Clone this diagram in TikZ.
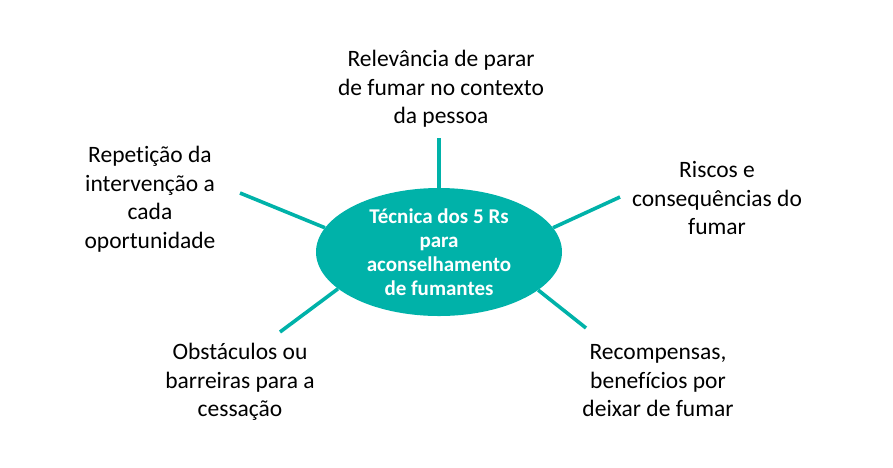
\documentclass[tikz,border=0pt]{standalone}
\usepackage{fontspec}
\setmainfont{Carlito}[Ligatures=NoCommon]
\usepackage{tikz}
\usetikzlibrary{arrows,shapes,positioning,fit}
\definecolor{teal5r}{RGB}{0,178,169}

\begin{document}
\begin{tikzpicture}[x=1pt,y=-1pt]
    \tikzset{vertex/.style = {align=center,font=\fontsize{23.5}{28.5}\selectfont}}
    \tikzset{hub/.style = {shape=ellipse,fill=teal5r,text=white,align=center,inner sep=0pt,
        minimum width=246pt,minimum height=128pt,font=\fontsize{21}{24}\selectfont\bfseries}}
    \tikzset{edge/.style = {teal5r,line width=3.6pt}}
    \useasboundingbox (0,0) rectangle (893,467);
    % vertices
    \node[hub] (0) at (439,252) {Técnica dos 5 Rs\\para\\aconselhamento\\de fumantes};
    \node[vertex] (1) at (441,89)  {Relevância de parar\\de fumar no contexto\\da pessoa};
    \node[vertex] (2) at (717,198) {Riscos e\\consequências do\\fumar};
    \node[vertex] (3) at (658,381) {Recompensas,\\benefícios por\\deixar de fumar};
    \node[vertex] (4) at (240,382) {Obstáculos ou\\barreiras para a\\cessação};
    \node[vertex] (5) at (150,199) {Repetição da\\intervenção a\\cada\\oportunidade};
    % free ends of the spokes
    \coordinate (e1) at (439,138);
    \coordinate (e2) at (620,197);
    \coordinate (e3) at (586,328);
    \coordinate (e4) at (280,332);
    \coordinate (e5) at (240,193);
    \draw[edge] (0.90) -- (e1);
    \draw[edge] (0.12.6) -- (e2);
    \draw[edge] (0.-21.9) -- (e3);
    \draw[edge] (0.-160) -- (e4);
    \draw[edge] (0.168.7) -- (e5);
\end{tikzpicture}
\end{document}
